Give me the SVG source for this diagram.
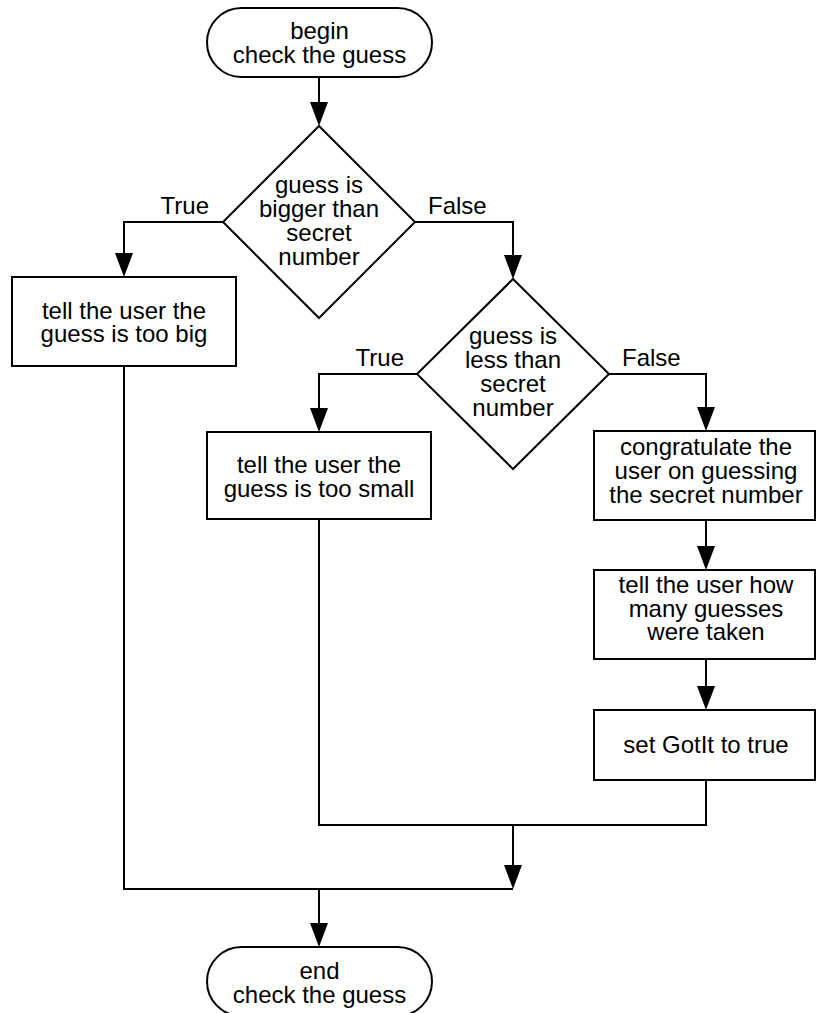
<svg xmlns="http://www.w3.org/2000/svg" width="817" height="1013" viewBox="0 0 817 1013">
<style>
.shape{fill:#fff;stroke:#000;stroke-width:2}
.conn{fill:none;stroke:#000;stroke-width:2}
text{font-family:"Liberation Sans",Arial,Helvetica,sans-serif;font-size:24px;fill:#000}
.c{text-anchor:middle}
.r{text-anchor:end}
</style>
<defs>
<marker id="arrow" markerUnits="userSpaceOnUse" markerWidth="24" markerHeight="18" refX="16" refY="9" orient="auto">
<path d="M0,0 L24,9 L0,18 Z" fill="#000"/>
</marker>
</defs>
<rect width="817" height="1013" fill="#fff"/>
<g id="connectors">
<path class="conn" d="M319,77 V118" marker-end="url(#arrow)"/>
<path class="conn" d="M223,222 H124 V269" marker-end="url(#arrow)"/>
<path class="conn" d="M415,222 H513 V271" marker-end="url(#arrow)"/>
<path class="conn" d="M417,374 H319 V424" marker-end="url(#arrow)"/>
<path class="conn" d="M609,374 H706 V423" marker-end="url(#arrow)"/>
<path class="conn" d="M706,520 V562" marker-end="url(#arrow)"/>
<path class="conn" d="M706,659 V702" marker-end="url(#arrow)"/>
<path class="conn" d="M319,519 V825 H706 V780"/>
<path class="conn" d="M513,825 V881" marker-end="url(#arrow)"/>
<path class="conn" d="M124,366 V889 H513"/>
<path class="conn" d="M319,889 V939" marker-end="url(#arrow)"/>
<text x="209" y="214" class="r">True</text>
<text x="428" y="214">False</text>
<text x="404" y="366" class="r">True</text>
<text x="622" y="366">False</text>
</g>
<g id="begin">
<rect class="shape" x="207" y="8" width="225" height="69" rx="34.5" ry="34.5"/>
<text x="319.5" y="39" class="c">begin</text>
<text x="319.5" y="63" class="c">check the guess</text>
</g>
<g id="decision1">
<polygon class="shape" points="319,126 415,222 319,318 223,222"/>
<text x="319" y="193" class="c">guess is</text>
<text x="319" y="217" class="c">bigger than</text>
<text x="319" y="241" class="c">secret</text>
<text x="319" y="265" class="c">number</text>
</g>
<g id="too-big">
<rect class="shape" x="12" y="277" width="224" height="89"/>
<text x="124" y="319" class="c">tell the user the</text>
<text x="124" y="342" class="c">guess is too big</text>
</g>
<g id="decision2">
<polygon class="shape" points="513,279 609,374 513,469 417,374"/>
<text x="513" y="344" class="c">guess is</text>
<text x="513" y="368" class="c">less than</text>
<text x="513" y="392" class="c">secret</text>
<text x="513" y="416" class="c">number</text>
</g>
<g id="too-small">
<rect class="shape" x="207" y="432" width="224" height="87"/>
<text x="319" y="473" class="c">tell the user the</text>
<text x="319" y="497" class="c">guess is too small</text>
</g>
<g id="congratulate">
<rect class="shape" x="594" y="431" width="221" height="89"/>
<text x="706" y="455" class="c">congratulate the</text>
<text x="706" y="479" class="c">user on guessing</text>
<text x="706" y="503" class="c">the secret number</text>
</g>
<g id="how-many">
<rect class="shape" x="594" y="570" width="221" height="89"/>
<text x="706" y="593" class="c">tell the user how</text>
<text x="706" y="617" class="c">many guesses</text>
<text x="706" y="640" class="c">were taken</text>
</g>
<g id="set-gotit">
<rect class="shape" x="594" y="710" width="221" height="70"/>
<text x="706" y="753" class="c">set GotIt to true</text>
</g>
<g id="end">
<rect class="shape" x="207" y="947" width="225" height="69" rx="34.5" ry="34.5"/>
<text x="319.5" y="979" class="c">end</text>
<text x="319.5" y="1003" class="c">check the guess</text>
</g>
</svg>
